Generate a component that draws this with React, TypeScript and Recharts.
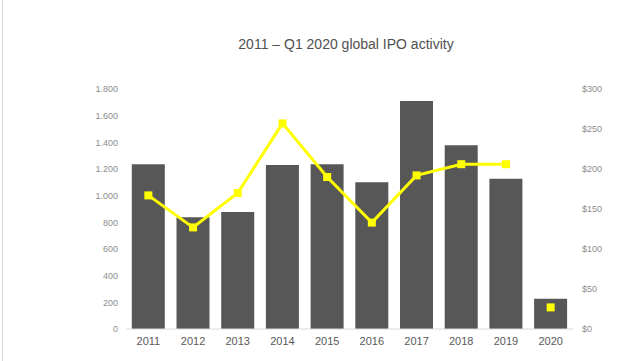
import React from 'react';
import { ComposedChart, Bar, Line, XAxis, YAxis, ReferenceLine } from 'recharts';

const years = ['2011', '2012', '2013', '2014', '2015', '2016', '2017', '2018', '2019', '2020'];
const ipoCount = [1235, 838, 877, 1230, 1235, 1100, 1710, 1378, 1127, 227];
const proceeds = [167, 127, 170, 257, 190, 133, 192, 206, 206, null];
const proceeds2020 = [null, null, null, null, null, null, null, null, null, 27];
const leftTicks = [0, 200, 400, 600, 800, 1000, 1200, 1400, 1600, 1800];
const rightTicks = [0, 50, 100, 150, 200, 250, 300];

const data = years.map((y, i) => ({
  year: y,
  count: ipoCount[i],
  proceeds: proceeds[i],
  proceeds2020: proceeds2020[i],
}));

const fmtLeft = (v: number) => (v >= 1000 ? `${Math.floor(v / 1000)}.${String(v % 1000).padStart(3, '0')}` : String(v));
const fmtRight = (v: number) => `$${v}`;

const SquareDot = (props: any) => {
  const { cx, cy, value } = props;
  if (value == null || cx == null || cy == null) return null;
  return <rect x={cx - 4} y={cy - 4} width={8} height={8} fill="#FFFF00" />;
};

export default function App() {
  return (
    <div style={{ position: 'absolute', left: 0, top: 0, width: 640, height: 361, background: '#fff', fontFamily: 'Liberation Sans, Arial, sans-serif' }}>
      <div style={{ position: 'absolute', left: 2, top: 0, width: 1, height: 361, background: '#d9d9d9' }} />
      <div style={{ position: 'absolute', left: 0, top: 36, width: 692, textAlign: 'center', fontSize: 14, color: '#505050' }}>
        2011 – Q1 2020 global IPO activity
      </div>
      <ComposedChart width={640} height={361} data={data} margin={{ top: 89, right: 0, bottom: 0, left: 0 }} barCategoryGap="13%">
        <XAxis dataKey="year" height={32} axisLine={false} tickLine={false} tickSize={0} tickMargin={8} tick={{ fill: '#595959', fontSize: 11 }} interval={0} />
        <YAxis yAxisId="left" width={126} domain={[0, 1800]} ticks={leftTicks} tickFormatter={fmtLeft} axisLine={false} tickLine={false} tickSize={0} tickMargin={8} tick={{ fill: '#8c8c8c', fontSize: 9 }} interval={0} />
        <YAxis yAxisId="right" orientation="right" width={67} domain={[0, 300]} ticks={rightTicks} tickFormatter={fmtRight} axisLine={false} tickLine={false} tickSize={0} tickMargin={9} tick={{ fill: '#8c8c8c', fontSize: 9, textAnchor: 'start' }} interval={0} />
        <ReferenceLine yAxisId="left" y={0} stroke="#d9d9d9" strokeWidth={1} />
        <Bar yAxisId="left" dataKey="count" fill="#575757" isAnimationActive={false} />
        <Line yAxisId="right" dataKey="proceeds" stroke="#FFFF00" strokeWidth={3} dot={<SquareDot />} activeDot={false} isAnimationActive={false} connectNulls={false} />
        <Line yAxisId="right" dataKey="proceeds2020" stroke="none" dot={<SquareDot />} activeDot={false} isAnimationActive={false} />
      </ComposedChart>
    </div>
  );
}
